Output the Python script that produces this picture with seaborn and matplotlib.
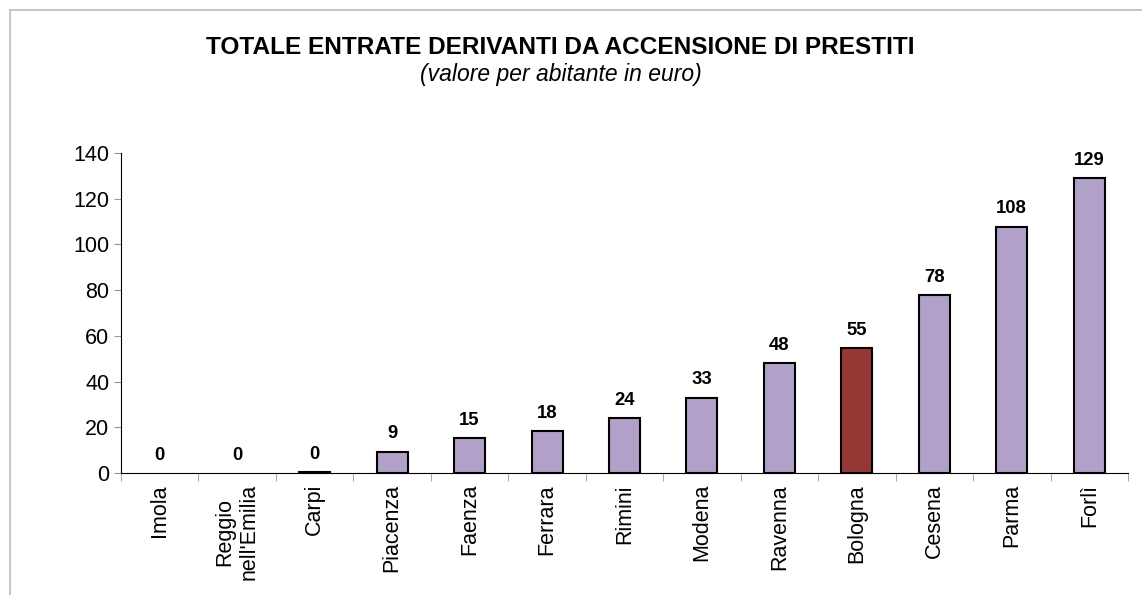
import seaborn as sb
import matplotlib.pyplot as plt
import matplotlib.patches as mpatches
import numpy as np
import pandas as pd

# dati: entrate da accensione di prestiti (euro per abitante)
comuni = ["Imola", "Reggio\nnell'Emilia", "Carpi", "Piacenza", "Faenza", "Ferrara",
          "Rimini", "Modena", "Ravenna", "Bologna", "Cesena", "Parma", "Forlì"]
valori = [0, 0, 0.4, 9.4, 15.4, 18.2, 24.1, 33, 48.2, 54.8, 77.9, 107.8, 129]
etichette = [0, 0, 0, 9, 15, 18, 24, 33, 48, 55, 78, 108, 129]

df = pd.DataFrame({"comune": comuni, "valore": valori})
colori = ["#953735" if c == "Bologna" else "#B1A0C7" for c in comuni]

sb.set_style("white")
plt.rcParams['font.family'] = ['Liberation Sans', 'DejaVu Sans']
plt.rcParams['text.color'] = 'black'
plt.rcParams['xtick.color'] = 'black'
plt.rcParams['ytick.color'] = 'black'

fig = plt.figure(figsize=(11.42, 5.95), dpi=100)
ax = fig.add_axes([121 / 1142, 1 - 473 / 595, 1007 / 1142, 320 / 595])

sb.barplot(x="comune", y="valore", data=df, hue="comune", palette=colori,
           legend=False, width=0.4, saturation=1, edgecolor="black", linewidth=1.5, ax=ax)

# niente bordo per le barre a zero
for p in ax.patches:
    if p.get_height() == 0:
        p.set_linewidth(0)

for i, v in enumerate(valori):
    ax.text(i, v + 4, str(etichette[i]), ha="center", va="bottom",
            fontsize=13.3, fontweight="bold")

ax.set_ylim(0, 140)
ax.set_xlim(-0.5, len(comuni) - 0.5)
ax.set_yticks(range(0, 141, 20))
ax.tick_params(axis="y", labelsize=15.5, length=5, color="#999999", direction="out", left=True)
ax.tick_params(axis="x", which="major", length=0, labelsize=15.5, labelrotation=90, pad=8)
ax.set_xticks(np.arange(-0.5, len(comuni)), minor=True)
ax.tick_params(axis="x", which="minor", length=6, color="#999999", bottom=True, direction="out")
ax.set_xlabel("")
ax.set_ylabel("")
for s in ["top", "right"]:
    ax.spines[s].set_visible(False)
ax.spines["left"].set_color("black")
ax.spines["bottom"].set_color("black")

fig.text(0.491, 1 - 48 / 595, "TOTALE ENTRATE DERIVANTI DA ACCENSIONE DI PRESTITI",
         ha="center", va="center", fontsize=17.6, fontweight="bold")
fig.text(0.491, 1 - 75 / 595, "(valore per abitante in euro)",
         ha="center", va="center", fontsize=16.5, style="italic")

# cornice grigia
fig.patches.append(mpatches.Rectangle((10 / 1142, -0.1), 1.2, 1 - 10 / 595 + 0.1,
                                      transform=fig.transFigure, fill=False,
                                      edgecolor="#BBBBBB", linewidth=1.2))

plt.savefig("out.png", dpi=100)
